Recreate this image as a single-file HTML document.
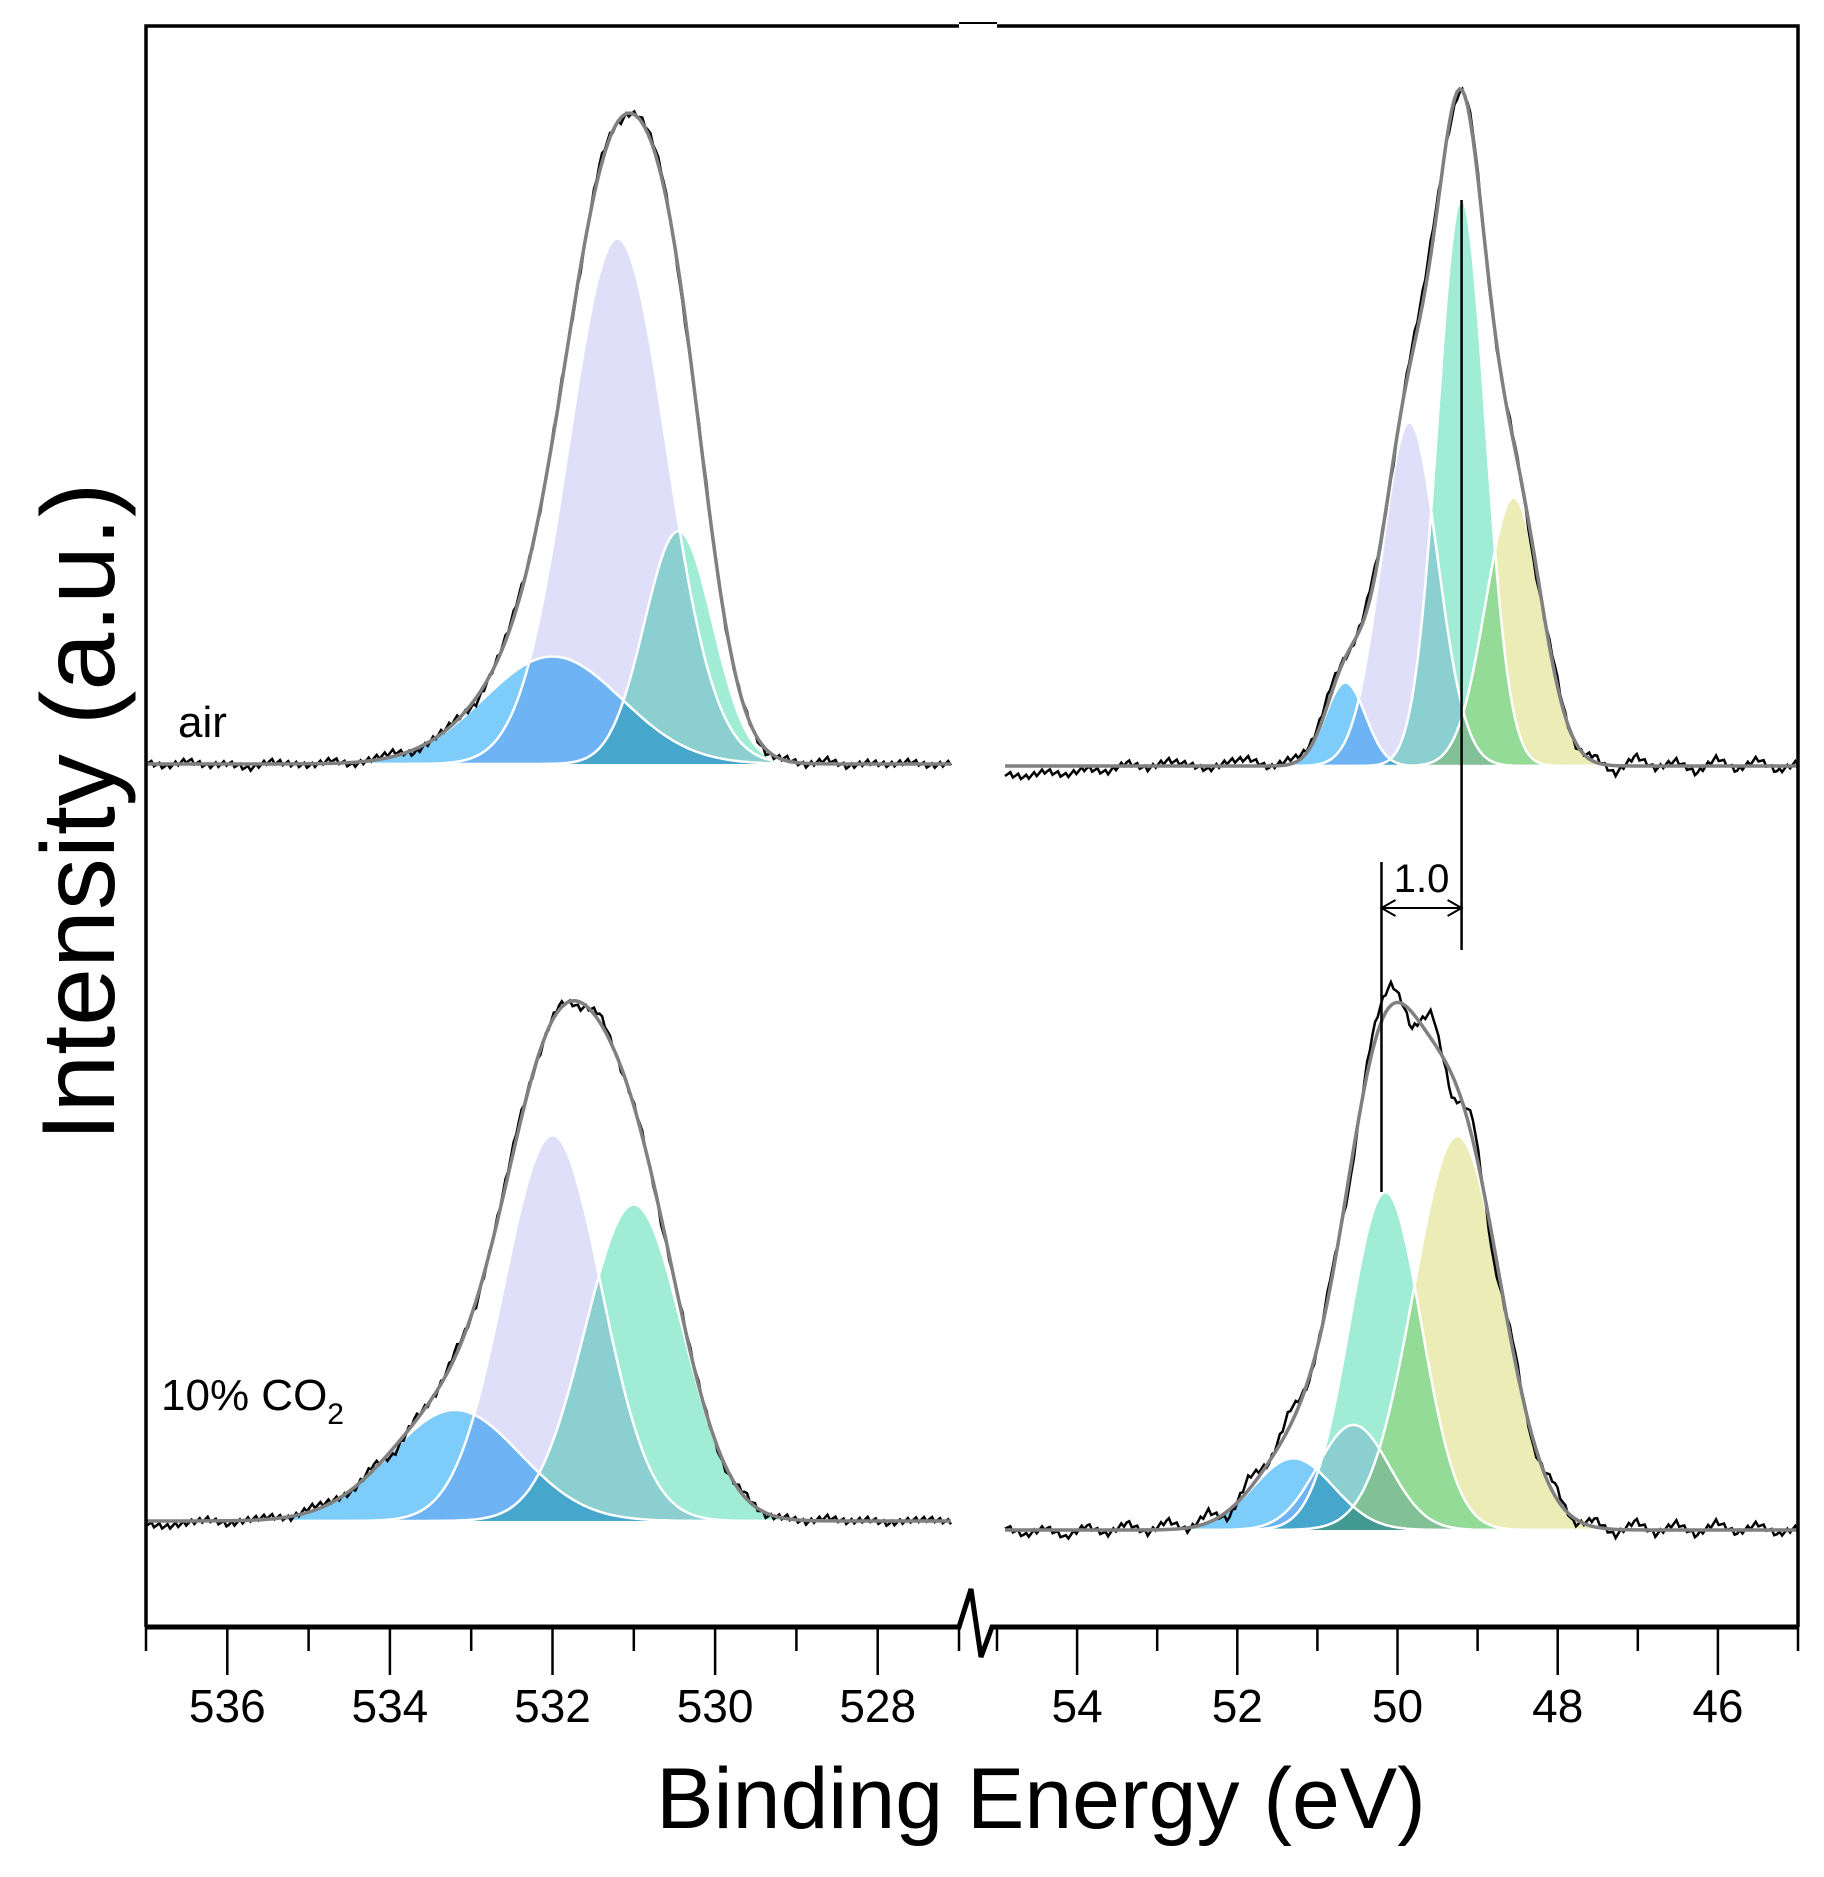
<!DOCTYPE html>
<html><head><meta charset="utf-8"><style>
html,body{margin:0;padding:0;background:#fff}
svg{display:block}
text{font-family:"Liberation Sans",sans-serif}
</style></head><body>
<svg id="c" width="1824" height="1877" viewBox="0 0 1824 1877" xmlns="http://www.w3.org/2000/svg"></svg>
<script>
// ---- data ----
const leftTicks=[536,534,532,530,528];
const rightTicks=[54,52,50,48,46];
// peaks: [center eV, height (a.u.), sigma eV]
const airO=[[532.0,90,0.85],[531.2,440,0.6],[530.45,195,0.42]];
const airMg=[[50.65,70,0.25],[49.85,288,0.35],[49.2,475,0.3],[48.55,225,0.35]];
const co2O=[[533.2,93,0.8],[532.0,323,0.6],[531.0,265,0.6]];
const co2Mg=[[51.3,60,0.5],[50.55,88,0.45],[50.15,283,0.45],[49.25,330,0.55]];
const airONoise=[2,-3,4,-2,1,-5,3,0,-2,4,-3,2,5,-4,1,3,-6,2,6,-3,4,-5,8,-4,3,6,-7,5,-3,2,-4,3,-2,5,-3,2,-1,3,-2,1];
const airMgNoise=[-8,-12,-5,-10,-2,-7,4,-3,6,2,-4,5,8,-2,6,3,10,-4,12,-6,9,14,-10,8,-5,6,-12,10,-4,7,-9,11,-3,6,-8,9,-5,8,-6,4];
const co2ONoise=[-3,-6,-2,2,-4,1,3,-2,5,2,-3,6,-8,4,-2,7,-5,3,8,-4,5,-7,9,-3,4,-6,3,2,-4,5,-3,2,-2,4,-1,2,-3,1,2,-1];
const co2MgNoise=[4,-6,3,-8,5,-5,8,-4,10,-3,12,-9,14,-2,18,-6,10,-14,16,22,-18,30,-26,24,-20,12,-8,14,-6,9,-7,10,-5,8,-6,9,-4,7,-5,3];
const colors=['#6fc6f8','#dcdcf8','#96ead0','#eaeaae'];
</script>
<script>
const svg=document.getElementById('c');const NS='http://www.w3.org/2000/svg';
const s=1.1945;
function el(t,a,p){const e=document.createElementNS(NS,t);for(const k in a)e.setAttribute(k,a[k]);(p||svg).appendChild(e);return e;}
const L0=146,L1=959,R0=997,R1=1798,TOP=26,AX=1627;
const xl=v=>L0+(537-v)/10*(L1-L0);
const xr=v=>R0+(55-v)/10*(R1-R0);
const yv=(base,h)=>base-h*s;
const g=(p,x)=>p[1]*Math.exp(-((x-p[0])**2)/(2*p[2]*p[2]));
function panel(name,peaks,noise,xf,lo,hi,base){
  const grp=el('g',{});
  
  
  const N=300;
  const fills=el('g',{style:'isolation:isolate'},grp);
  peaks.forEach((p,i)=>{
    let d='';
    for(let k=0;k<=N;k++){const x=lo+(hi-lo)*k/N;d+=(k?'L':'M')+xf(x).toFixed(1)+','+yv(base,g(p,x)).toFixed(1);}
    const e=el('path',{d:d+'Z',fill:colors[i],'fill-opacity':0.9,style:'mix-blend-mode:multiply'},fills);
    
    
  });
  peaks.forEach((p,i)=>{
    let d='';
    for(let k=0;k<=N;k++){const x=lo+(hi-lo)*k/N;d+=(k?'L':'M')+xf(x).toFixed(1)+','+yv(base,g(p,x)).toFixed(1);}
    el('path',{d,fill:'none',stroke:'#fff','stroke-width':2.5},grp);
  });
  let d='';const M=noise.length;
  for(let k=0;k<=N;k++){const x=lo+(hi-lo)*k/N;let env=peaks.reduce((a,p)=>a+g(p,x),0);
    const f=k/N*(M-1);const i=Math.floor(f);const n=noise[Math.min(i,M-1)]*(1-(f-i))+noise[Math.min(i+1,M-1)]*(f-i);
    const jit=((k%3)-1)*2;
    d+=(k?'L':'M')+xf(x).toFixed(1)+','+yv(base,env+n*0.8+jit).toFixed(1);}
  const dl=el('path',{d,fill:'none',stroke:'#000','stroke-width':2.5},grp);
  
  
  d='';
  for(let k=0;k<=N;k++){const x=lo+(hi-lo)*k/N;const env=peaks.reduce((a,p)=>a+g(p,x),0);d+=(k?'L':'M')+xf(x).toFixed(1)+','+yv(base,env).toFixed(1);}
  const ef=el('path',{d,fill:'none',stroke:'#808080','stroke-width':3.5},grp);
  
  
}
panel('air-o1s-panel',airO,airONoise,xl,537,527.1,764);
panel('air-mg2p-panel',airMg,airMgNoise,xr,54.9,45,766);
panel('co2-o1s-panel',co2O,co2ONoise,xl,537,527.1,1521);
panel('co2-mg2p-panel',co2Mg,co2MgNoise,xr,54.9,45,1530);
const fr=el('path',{d:`M${L0},${AX} L${L0},${TOP} L${L1},${TOP} M${R0},${TOP} L${R1},${TOP} L${R1},${AX}`,fill:'none',stroke:'#000','stroke-width':3.5});

el('line',{x1:L1,y1:TOP-3,x2:R0,y2:TOP-3,stroke:'#000','stroke-width':2});
const ax=el('path',{d:`M${L0},${AX} L${L1},${AX} L${L1+12},${AX-38} L${L1+22},${AX+30} L${R0-5},${AX} L${R1},${AX}`,fill:'none',stroke:'#000','stroke-width':5});

for(let v=537;v>=527;v--){const x=xl(v);const maj=v%2===0;el('line',{x1:x,y1:AX,x2:x,y2:AX+(maj?48:24),stroke:'#000','stroke-width':2.5});}
for(let v=55;v>=45;v--){const x=xr(v);const maj=v%2===0;el('line',{x1:x,y1:AX,x2:x,y2:AX+(maj?48:24),stroke:'#000','stroke-width':2.5});}
leftTicks.forEach(v=>{const t=el('text',{x:xl(v),y:1722,'font-size':46,'text-anchor':'middle'});t.textContent=v;
  });
rightTicks.forEach(v=>{const t=el('text',{x:xr(v),y:1722,'font-size':46,'text-anchor':'middle'});t.textContent=v;
  });
el('line',{x1:xr(49.2),y1:200,x2:xr(49.2),y2:950,stroke:'#000','stroke-width':2.5});
el('line',{x1:xr(50.2),y1:862,x2:xr(50.2),y2:1192,stroke:'#000','stroke-width':2.5});
const ay=908;
el('path',{d:`M${xr(50.2)},${ay}L${xr(49.2)},${ay}M${xr(50.2)+14},${ay-8}L${xr(50.2)},${ay}L${xr(50.2)+14},${ay+8}M${xr(49.2)-14},${ay-8}L${xr(49.2)},${ay}L${xr(49.2)-14},${ay+8}`,fill:'none',stroke:'#000','stroke-width':2});
const sh=el('text',{x:(xr(50.2)+xr(49.2))/2,y:892,'font-size':40,'text-anchor':'middle'});sh.textContent='1.0';

const a1=el('text',{x:178,y:737,'font-size':44});a1.textContent='air';

const a2=el('text',{x:161,y:1410,'font-size':44});a2.innerHTML='10% CO<tspan font-size="30" dy="14">2</tspan>';

const xt=el('text',{x:1041,y:1828,'font-size':86,'text-anchor':'middle'});xt.textContent='Binding Energy (eV)';

const yt=el('text',{x:0,y:0,'font-size':104,'text-anchor':'middle',transform:'translate(114,812) rotate(-90)'});yt.textContent='Intensity (a.u.)';

</script>
</body></html>
